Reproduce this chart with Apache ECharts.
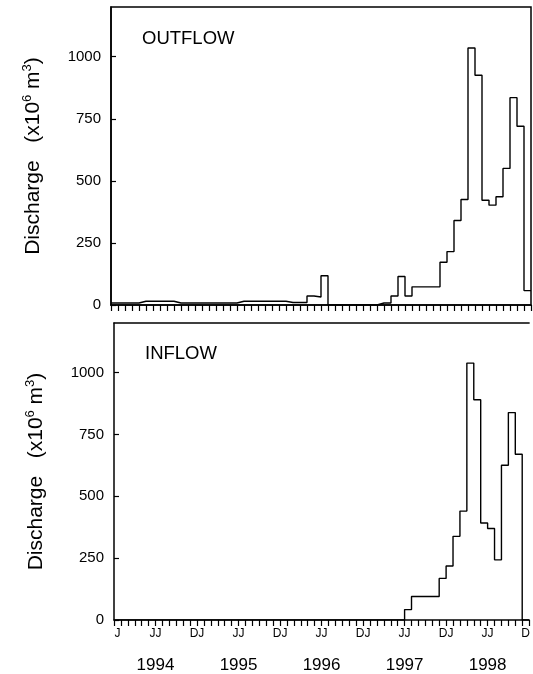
<!DOCTYPE html>
<html>
<head>
<meta charset="utf-8">
<script src="https://cdn.jsdelivr.net/npm/echarts@6/dist/echarts.min.js"></script>
<style>
  html, body { margin: 0; padding: 0; background: #fff; }
  #chart { width: 533px; height: 674px; }
</style>
</head>
<body>
<div id="chart"></div>
<script>
// monthly discharge (x10^6 m3), Jan 1994 .. Dec 1998
var outflow = [
  8, 8, 8, 8, 15, 15, 15, 15, 15, 8, 8, 8,
  8, 8, 8, 8, 8, 8, 15, 15, 15, 15, 15, 15,
  15, 10, 10, 10, 36, 32, 118, 0, 0, 0, 0, 0,
  0, 0, 8, 8, 36, 115, 36, 73, 73, 73, 73, 172,
  215, 340, 425, 1035, 925, 422, 402, 436, 550, 835, 720, 58
]
var inflow = [
  0, 0, 0, 0, 0, 0, 0, 0, 0, 0, 0, 0,
  0, 0, 0, 0, 0, 0, 0, 0, 0, 0, 0, 0,
  0, 0, 0, 0, 0, 0, 0, 0, 0, 0, 0, 0,
  0, 0, 0, 0, 0, 0, 42, 95, 95, 95, 95, 168,
  218, 338, 440, 1038, 890, 392, 370, 243, 625, 838, 670, 0
]
// month label positions (in months from Jan 1994) and their text
var monthPos = [0.5, 6, 12, 18, 24, 30, 36, 42, 48, 54, 59.5]
var monthText = ['J', 'JJ', 'DJ', 'JJ', 'DJ', 'JJ', 'DJ', 'JJ', 'DJ', 'JJ', 'D']
var yearPos = [6, 18, 30, 42, 54]
var yearText = ['1994', '1995', '1996', '1997', '1998']
var yTicks = [0, 250, 500, 750, 1000]

var FONT = 'Liberation Sans'

function steps (arr) {
  var pts = arr.map(function (v, i) { return [i, v] })
  pts.push([arr.length, arr[arr.length - 1]])
  return pts
}

function yAxis (idx) {
  return {
    type: 'value',
    gridIndex: idx,
    min: 0,
    max: 1200,
    interval: 250,
    name: '{a|Discharge   (x10}{s|6}{a| m}{s|3}{a|)}',
    nameLocation: 'middle',
    nameRotate: 90,
    nameGap: 66,
    nameTextStyle: {
      rich: {
        a: { fontFamily: FONT, fontSize: 21, color: '#000', lineHeight: 24 },
        s: { fontFamily: FONT, fontSize: 13, color: '#000', verticalAlign: 'top', lineHeight: 24 }
      }
    },
    axisLine: { show: true, lineStyle: { color: '#000', width: 1.5 } },
    axisTick: { show: true, inside: true, length: 5, lineStyle: { color: '#000', width: 1.2 } },
    axisLabel: {
      margin: 10,
      fontFamily: FONT,
      fontSize: 15,
      color: '#000',
      showMaxLabel: false,
      formatter: function (v) { return yTicks.indexOf(v) >= 0 ? String(v) : '' }
    },
    splitLine: { show: false }
  }
}

function tickAxis (idx) {
  return {
    type: 'value',
    gridIndex: idx,
    min: 0,
    max: 60,
    interval: 1,
    position: 'bottom',
    axisLine: { show: true, onZero: false, lineStyle: { color: '#000', width: 1.5 } },
    axisTick: { show: true, length: 6, lineStyle: { color: '#000', width: 1.2 } },
    axisLabel: { show: false },
    splitLine: { show: false }
  }
}

var chart = echarts.init(document.getElementById('chart'), null, { renderer: 'canvas' })

var option = {
  backgroundColor: '#fff',
  animation: false,
  title: [
    { text: 'OUTFLOW', left: 142, top: 29, padding: 0,
      textStyle: { fontFamily: FONT, fontSize: 18.5, fontWeight: 'normal', color: '#000' } },
    { text: 'INFLOW', left: 145, top: 344, padding: 0,
      textStyle: { fontFamily: FONT, fontSize: 18.5, fontWeight: 'normal', color: '#000' } }
  ],
  grid: [
    { left: 111, top: 7, width: 420, height: 298, show: true, borderColor: '#000', borderWidth: 1.5 },
    { left: 114, top: 323, width: 417, height: 298 }
  ],
  xAxis: [
    tickAxis(0),
    tickAxis(1),
    {
      // month labels
      type: 'value', gridIndex: 1, min: 0, max: 60, interval: 0.5, position: 'bottom',
      axisLine: { show: false }, axisTick: { show: false }, splitLine: { show: false },
      axisLabel: {
        margin: 8, fontFamily: FONT, fontSize: 12, color: '#000',
        formatter: function (v) {
          var i = monthPos.indexOf(v)
          return i >= 0 ? monthText[i] : ''
        }
      }
    },
    {
      // year labels
      type: 'value', gridIndex: 1, min: 0, max: 60, interval: 6, position: 'bottom', offset: 29,
      axisLine: { show: false }, axisTick: { show: false }, splitLine: { show: false },
      axisLabel: {
        margin: 8, fontFamily: FONT, fontSize: 17, color: '#000',
        formatter: function (v) {
          var i = yearPos.indexOf(v)
          return i >= 0 ? yearText[i] : ''
        }
      }
    },
    {
      // top frame of the lower panel
      type: 'value', gridIndex: 1, min: 0, max: 60, position: 'top',
      axisLine: { show: true, onZero: false, lineStyle: { color: '#000', width: 1.5 } },
      axisTick: { show: false }, axisLabel: { show: false }, splitLine: { show: false }
    }
  ],
  yAxis: [yAxis(0), yAxis(1)],
  series: [
    {
      name: 'Outflow', type: 'line', step: 'end', xAxisIndex: 0, yAxisIndex: 0,
      data: steps(outflow), symbol: 'none',
      lineStyle: { color: '#000', width: 1.4 }
    },
    {
      name: 'Inflow', type: 'line', step: 'end', xAxisIndex: 1, yAxisIndex: 1,
      data: steps(inflow), symbol: 'none',
      lineStyle: { color: '#000', width: 1.4 }
    }
  ]
}

chart.setOption(option)
</script>
</body>
</html>
